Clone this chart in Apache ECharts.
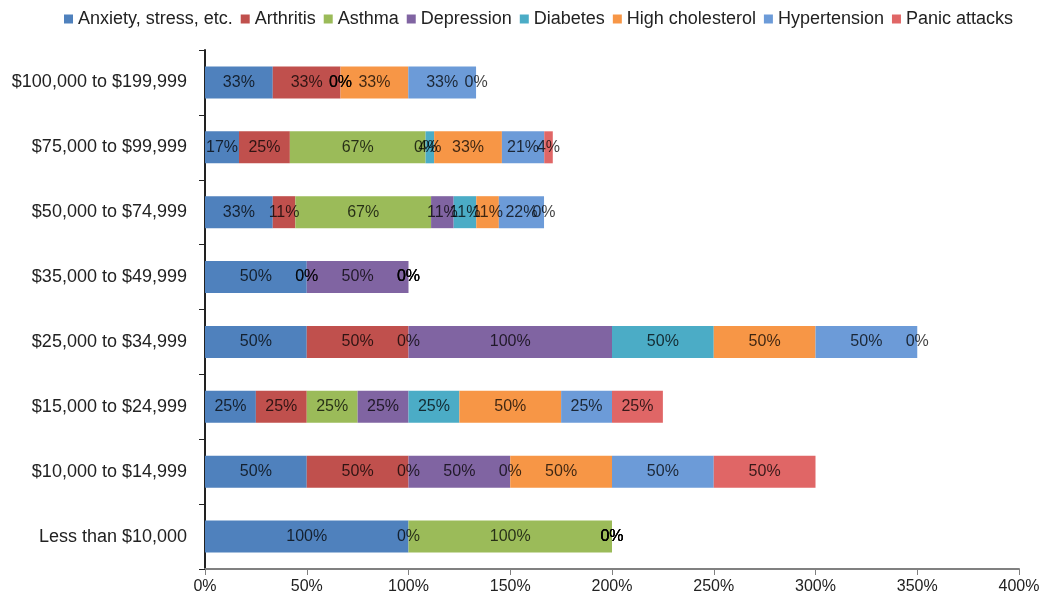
<!DOCTYPE html>
<html>
<head>
<meta charset="utf-8">
<script src="https://cdn.jsdelivr.net/npm/echarts@6/dist/echarts.min.js"></script>
<style>html,body{margin:0;padding:0;background:#fff;}#c{width:1048px;height:602px;}</style>
</head>
<body>
<div id="c"></div>
<script>
// Categories, top to bottom
const categories = ['$100,000 to $199,999', '$75,000 to $99,999', '$50,000 to $74,999', '$35,000 to $49,999',
  '$25,000 to $34,999', '$15,000 to $24,999', '$10,000 to $14,999', 'Less than $10,000'];
const seriesNames = ['Anxiety, stress, etc.', 'Arthritis', 'Asthma', 'Depression', 'Diabetes', 'High cholesterol', 'Hypertension', 'Panic attacks'];
// Values (%) per series, in category order above
const anxiety      = [33.3, 16.7, 33.3, 50, 50, 25, 50, 100];
const arthritis    = [33.3, 25.0, 11.1, 0, 50, 25, 50, 0];
const asthma       = [0, 66.7, 66.7, 0, 0, 25, 0, 100];
const depression   = [0, 0, 11.1, 50, 100, 25, 50, 0];
const diabetes     = [0, 4.2, 11.1, 0, 50, 25, 0, 0];
const cholesterol  = [33.3, 33.3, 11.1, 0, 50, 50, 50, 0];
const hypertension = [33.3, 20.8, 22.2, 0, 50, 25, 50, 0];
const panic        = [0, 4.2, 0, 0, 0, 25, 50, 0];
const xTicks = [0, 50, 100, 150, 200, 250, 300, 350, 400];

const values = [anxiety, arthritis, asthma, depression, diabetes, cholesterol, hypertension, panic];
const colors = ['#4F81BD', '#C0504D', '#9BBB59', '#8064A2', '#4BACC6', '#F79646', '#6C9BD8', '#E06666'];

const chart = echarts.init(document.getElementById('c'), null, {renderer: 'canvas'});
chart.setOption({
  animation: false,
  color: colors,
  legend: {
    top: 5, left: 59,
    icon: 'rect', itemWidth: 9, itemHeight: 9, itemGap: 8,
    textStyle: {fontFamily: 'Liberation Sans, Arial, sans-serif', fontSize: 18, color: '#222'},
    data: seriesNames
  },
  grid: {left: 205, right: 29, top: 50, bottom: 33, containLabel: false},
  xAxis: {
    type: 'value', min: xTicks[0], max: xTicks[xTicks.length - 1], interval: 50,
    axisLine: {show: true, lineStyle: {color: '#808080', width: 2}},
    axisTick: {show: true, length: 6, lineStyle: {color: '#808080'}},
    splitLine: {show: false},
    axisLabel: {formatter: v => v + '%', fontFamily: 'Liberation Sans, Arial, sans-serif', fontSize: 16, color: '#222', margin: 10}
  },
  yAxis: {
    type: 'category', data: categories, inverse: true,
    axisLine: {show: true, lineStyle: {color: '#222', width: 2}},
    axisTick: {show: true, length: 6, lineStyle: {color: '#222'}},
    axisLabel: {fontFamily: 'Liberation Sans, Arial, sans-serif', fontSize: 18, color: '#222', margin: 18}
  },
  series: seriesNames.map((name, i) => ({
    name, type: 'bar', stack: 'total', barWidth: 32,
    data: values[i],
    itemStyle: {color: colors[i]},
    label: {
      show: true, position: 'inside',
      formatter: p => Math.round(p.value) + '%',
      fontFamily: 'Liberation Sans, Arial, sans-serif', fontSize: 16, color: 'rgba(0,0,0,0.75)'
    }
  }))
});
</script>
</body>
</html>
